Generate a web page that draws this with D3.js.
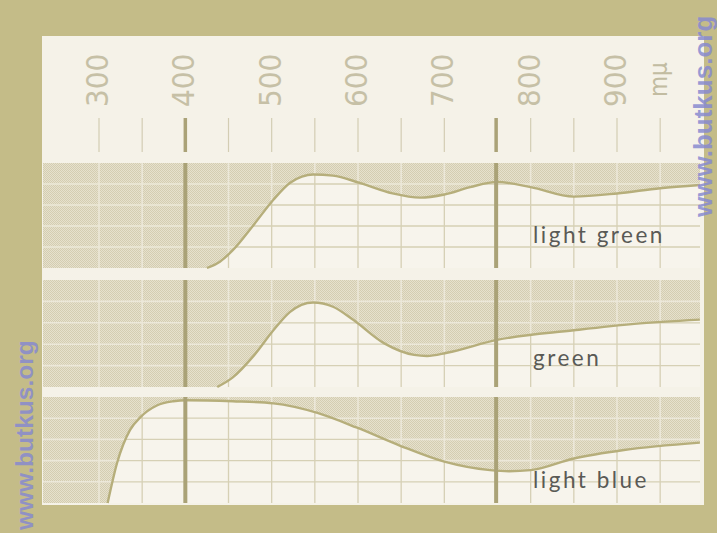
<!DOCTYPE html>
<html><head><meta charset="utf-8">
<script src="https://cdn.jsdelivr.net/npm/d3@7"></script>
<style>body{margin:0;background:#c4bc88}svg{display:block}</style>
</head><body><script>
// ---- data ----
const tickValues = [300,350,400,450,500,550,600,650,700,760,800,850,900,950];
const majorLines = [400,760];
const tickLabels = [300,400,500,600,700,800,900];
const unitLabel = "mμ";
const gridLevels = [20,40,60,80];
const seriesNames = ["light green","green","light blue"];
const lightGreen = [[425,0],[440,6],[455,17],[480,42],[502,65],[521,81],[535,87],[548,89],[571,88],[602,81],[640,71],[672,67],[700,70],[730,77],[761,82],[800,77],[850,68],[900,71],[950,76],[996,79]];
const green = [[437,0],[455,9],[480,30],[502,53],[521,70],[548,79],[571,75],[594,63],[630,41],[665,30],[680,29],[703,32],[761,44],[850,53],[920,59],[996,63]];
const lightBlue = [[310,0],[321,38],[336,69],[348,81],[367,92],[386,96],[402,97],[455,96],[502,94],[553,85],[599,71],[649,54],[700,39],[753,31],[775,30],[800,31],[850,42],[908,50],[996,57]];
const watermark = "www.butkus.org";

// ---- layout ----
const W = 717, H = 533;
const paper = {left:42, top:36, right:704, bottom:505};
const panelLeft = 43, panelRight = 700;
const panels = [{top:163,bottom:268,labelY:243},{top:280,bottom:387,labelY:366},{top:397,bottom:503,labelY:488}];
const labelX = 533;
const seriesData = [lightGreen, green, lightBlue];

const x = d3.scaleLinear().domain([300,900]).range([99,617]);

const svg = d3.select("body").append("svg").attr("width",W).attr("height",H);
svg.append("rect").attr("width",W).attr("height",H).attr("fill","#c4bc88");
svg.append("rect").attr("x",paper.left).attr("y",paper.top)
  .attr("width",paper.right-paper.left).attr("height",paper.bottom-paper.top).attr("fill","#f5f2e8");

const defs = svg.append("defs");
const pat = defs.append("pattern").attr("id","hatch").attr("width",2).attr("height",2).attr("patternUnits","userSpaceOnUse");
pat.append("rect").attr("width",2).attr("height",2).attr("fill","#e6e1cd");
pat.append("rect").attr("width",1).attr("height",1).attr("fill","#d4cdb1");
pat.append("rect").attr("x",1).attr("y",1).attr("width",1).attr("height",1).attr("fill","#d4cdb1");

const digitFont = "'Liberation Sans Narrow','DejaVu Sans Condensed','DejaVu Sans',sans-serif";

// top scale ticks
const axisG = svg.append("g");
axisG.selectAll("line.t").data(tickValues).join("line")
  .attr("x1",d=>x(d)).attr("x2",d=>x(d)).attr("y1",118).attr("y2",152)
  .attr("stroke",d=>majorLines.includes(d)?"#aaa277":"#d3cdb3")
  .attr("stroke-width",d=>majorLines.includes(d)?3.5:1.2);
axisG.selectAll("text.l").data(tickLabels).join("text")
  .attr("transform",d=>`translate(${x(d)-2},107) rotate(-90)`)
  .attr("dy","0.35em").attr("text-anchor","start")
  .attr("font-family",digitFont).attr("font-size",31).attr("font-weight",300)
  .attr("fill","#c6c0a6").text(d=>d);
axisG.append("text").attr("transform",`translate(${x(950)-2},97) rotate(-90)`)
  .attr("dy","0.35em").attr("font-family",digitFont).attr("font-size",24)
  .attr("fill","#c2bca1").text(unitLabel);

panels.forEach((p,i)=>{
  const y = d3.scaleLinear().domain([0,100]).range([p.bottom,p.top]);
  const data = seriesData[i];
  const line = d3.line().x(d=>x(d[0])).y(d=>y(d[1])).curve(d3.curveMonotoneX);
  const lp = line(data);
  const last = data[data.length-1];
  const shadePath = `M${panelLeft},${p.top}L${panelLeft},${p.bottom}L` + lp.slice(1) +
    `L${panelRight},${y(last[1])}L${panelRight},${p.top}Z`;
  const g = svg.append("g");
  g.append("rect").attr("x",panelLeft).attr("y",p.top).attr("width",panelRight-panelLeft)
    .attr("height",p.bottom-p.top).attr("fill","#f7f4ec");
  const vGrid = tickValues.filter(v=>!majorLines.includes(v));
  const drawGrid = (sel,color,w)=>{
    sel.selectAll("line.v").data(vGrid).join("line")
      .attr("x1",d=>x(d)).attr("x2",d=>x(d)).attr("y1",p.top).attr("y2",p.bottom)
      .attr("stroke",color).attr("stroke-width",w);
    sel.selectAll("line.h").data(gridLevels).join("line")
      .attr("x1",panelLeft).attr("x2",panelRight).attr("y1",d=>y(d)).attr("y2",d=>y(d))
      .attr("stroke",color).attr("stroke-width",w);
  };
  drawGrid(g.append("g"),"#d6d0b5",1.3);
  g.append("path").attr("d",shadePath).attr("fill","url(#hatch)");
  defs.append("clipPath").attr("id","clip"+i).append("path").attr("d",shadePath);
  drawGrid(g.append("g").attr("clip-path",`url(#clip${i})`),"#ece8d9",1.6);
  g.append("path").attr("d",lp).attr("fill","none").attr("stroke","#b6ae7b").attr("stroke-width",2.4);
  g.selectAll("line.m").data(majorLines).join("line")
    .attr("x1",d=>x(d)).attr("x2",d=>x(d)).attr("y1",p.top).attr("y2",p.bottom)
    .attr("stroke","#aaa277").attr("stroke-width",4);
  g.append("text").attr("x",labelX).attr("y",p.labelY)
    .attr("font-family","Lato,'Open Sans',sans-serif").attr("font-size",22.5)
    .attr("letter-spacing",2.5).attr("fill","#5a5a56").text(seriesNames[i]);
});

// watermarks
const wm = (tx,ty,anchor,fs)=>svg.append("text")
  .attr("transform",`translate(${tx},${ty}) rotate(-90)`).attr("text-anchor",anchor).attr("dy","0.35em")
  .attr("font-family","'Liberation Sans',Arial,sans-serif").attr("font-weight","bold").attr("font-size",fs)
  .attr("fill","#878ad0").attr("fill-opacity",0.85).text(watermark);
wm(703,217,"start",26);
wm(24,530,"start",24.5);
</script></body></html>
